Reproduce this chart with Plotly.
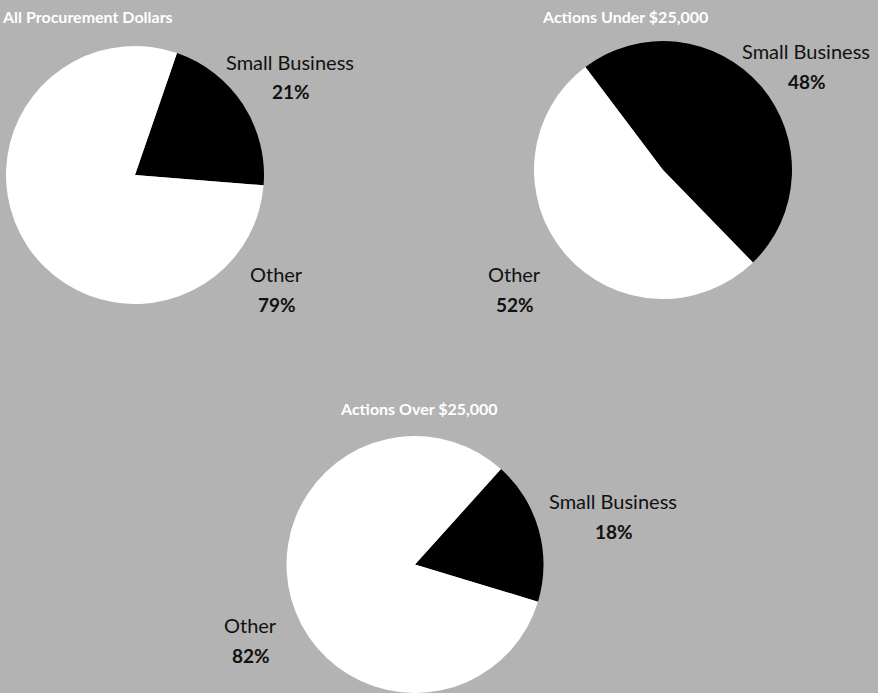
import plotly.graph_objects as go

W, H = 878, 693

titles = ["All Procurement Dollars", "Actions Under $25,000", "Actions Over $25,000"]
labels = ["Small Business", "Other"]
values_all = [21, 79]
values_under = [48, 52]
values_over = [18, 82]
series = [values_all, values_under, values_over]
colors = ["#000000", "#ffffff"]

# layout geometry (pixels): center x, center y, radius, rotation
pies = [
    dict(cx=135, cy=175, r=129, rot=19),
    dict(cx=663, cy=170, r=129, rot=-37),
    dict(cx=415, cy=565, r=129, rot=42),
]
title_pos = [(87, 17), (625, 17), (419, 408)]
label_pos = [
    [(290, 62), (276, 274)],
    [(806, 51), (514, 274)],
    [(613, 501), (250, 625)],
]

def px(x, y):
    return x / W, 1 - y / H

fig = go.Figure()
annotations = []
FONT = "Lato, Open Sans, sans-serif"
for i, (p, vals) in enumerate(zip(pies, series)):
    x0, y1 = px(p["cx"] - p["r"], p["cy"] - p["r"])
    x1, y0 = px(p["cx"] + p["r"], p["cy"] + p["r"])
    fig.add_trace(go.Pie(
        labels=labels, values=vals, sort=False, direction="clockwise",
        rotation=p["rot"], marker=dict(colors=colors, line=dict(width=0)),
        textinfo="none", hoverinfo="label+percent", showlegend=False,
        domain=dict(x=[max(0, x0), min(1, x1)], y=[max(0, y0), min(1, y1)]),
    ))
    tx, ty = px(*title_pos[i])
    annotations.append(dict(x=tx, y=ty, xref="paper", yref="paper", text=f"<b>{titles[i]}</b>",
                            showarrow=False, font=dict(family=FONT, size=16, color="white"),
                            xanchor="center", yanchor="middle"))
    for j, lab in enumerate(labels):
        lx, ly = label_pos[i][j]
        ax, ay = px(lx, ly)
        annotations.append(dict(x=ax, y=ay, xref="paper", yref="paper", text=lab,
                                showarrow=False, font=dict(family=FONT, size=20, color="#111"),
                                xanchor="center", yanchor="middle"))
        bx, by = px(lx + 1, ly + 30)
        annotations.append(dict(x=bx, y=by, xref="paper", yref="paper", text=f"<b>{vals[j]}%</b>",
                                showarrow=False, font=dict(family=FONT, size=19, color="#111"),
                                xanchor="center", yanchor="middle"))

fig.update_layout(
    width=W, height=H, margin=dict(l=0, r=0, t=0, b=0),
    paper_bgcolor="#b3b3b3", plot_bgcolor="#b3b3b3",
    annotations=annotations,
)
fig.write_html("out.html")
